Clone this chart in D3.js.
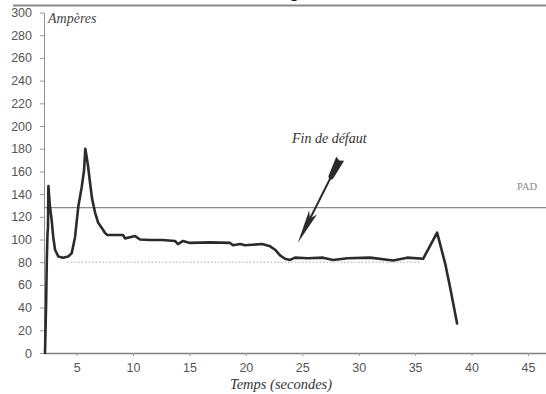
<!DOCTYPE html>
<html>
<head>
<meta charset="utf-8">
<script src="https://cdn.jsdelivr.net/npm/d3@7"></script>
<style>
  html, body { margin: 0; padding: 0; background: #fff; }
  svg { display: block; }
</style>
</head>
<body>
<svg id="chart" width="546" height="394"></svg>
<script>
// Courant mesuré (A) en fonction du temps (s)
const temps = [2.20, 2.30, 2.36, 2.42, 2.46, 2.50, 2.55, 2.64, 2.79, 2.93, 3.09, 3.38, 3.8, 4.26, 4.57,
  4.86, 5.15, 5.45, 5.66, 5.77, 5.90, 6.01, 6.19, 6.37, 6.63, 6.90, 7.25, 7.50, 7.69, 8.5,
  9.11, 9.29, 9.73, 10.18, 10.62, 11.51, 12.6, 13.72, 13.98, 14.43, 15.05, 16.8, 18.6, 18.86,
  19.49, 19.93, 21.44, 22.15, 22.59, 23.03, 23.47, 23.92, 24.36, 25.5, 26.84, 27.73, 29.0,
  31.0, 33.05, 34.3, 35.71, 36.95, 37.66, 38.1, 38.72];
const amperes = [0, 45, 82, 105, 110, 147, 140, 129, 117, 102, 91, 85, 84, 85, 88,
  102, 129, 146, 161, 180, 172, 165, 150, 136, 124, 115, 110, 106, 104, 104,
  104, 101, 102, 103, 100, 99.5, 99.5, 98.7, 96, 98.7, 97, 97.5, 97, 95,
  96, 95, 96, 94, 91, 86, 83, 82, 84, 83.5, 84, 82, 83.5,
  84, 81.5, 84, 83, 106, 79, 58, 26];

// Repères horizontaux
const seuilPAD = 128;
const niveauPointille = 80;
const pointilleDebut = 4.2;
const pointilleFin = 35.5;

// Graduations
const yTicks = d3.range(0, 301, 20);
const xTicks = [5, 10, 15, 20, 25, 30, 35, 40, 45];

// Annotation « Fin de défaut » (pointe et empennage de la flèche)
const flechePointe = [24.6, 97];
const flecheQueue = [28.2, 168];

const svg = d3.select("#chart");

const x = d3.scaleLinear().domain([2.11, 46.6]).range([44, 546]);
const y = d3.scaleLinear().domain([0, 300]).range([353, 12.5]);

// Filet supérieur et titre tronqué
svg.append("line")
  .attr("x1", 13).attr("x2", 546).attr("y1", 5.5).attr("y2", 5.5)
  .attr("stroke", "#8a8a8a").attr("stroke-width", 2);
svg.append("text")
  .attr("x", 294).attr("y", -3)
  .attr("text-anchor", "middle")
  .attr("font-family", "Liberation Sans, Arial, sans-serif")
  .attr("font-size", 20).attr("fill", "#111")
  .text("g");

// Axe vertical
const yAxis = svg.append("g")
  .attr("transform", `translate(${x.range()[0]},0)`)
  .call(d3.axisLeft(y).tickValues(yTicks).tickSize(4).tickPadding(8).tickSizeOuter(0));
yAxis.select(".domain").attr("stroke", "#8f8f8f");
yAxis.selectAll(".tick line").attr("stroke", "#9a9a9a");
yAxis.selectAll(".tick text")
  .attr("font-family", "Liberation Sans, Arial, sans-serif")
  .attr("font-size", 12.5).attr("fill", "#555");

// Axe horizontal
const xAxis = svg.append("g")
  .attr("transform", `translate(0,${y(0)})`)
  .call(d3.axisBottom(x).tickValues(xTicks).tickSize(3).tickPadding(7).tickSizeOuter(0));
xAxis.select(".domain").attr("stroke", "#7f7f7f").attr("stroke-width", 1.3);
xAxis.selectAll(".tick line").attr("stroke", "#9a9a9a");
xAxis.selectAll(".tick text")
  .attr("font-family", "Liberation Sans, Arial, sans-serif")
  .attr("font-size", 12.5).attr("fill", "#555");

// Titres d'axes
svg.append("text")
  .attr("x", 48).attr("y", 23)
  .attr("font-family", "Liberation Serif, Times New Roman, serif")
  .attr("font-style", "italic").attr("font-size", 14).attr("fill", "#444")
  .text("Ampères");
svg.append("text")
  .attr("x", 281).attr("y", 389)
  .attr("text-anchor", "middle")
  .attr("font-family", "Liberation Serif, Times New Roman, serif")
  .attr("font-style", "italic").attr("font-size", 14.5).attr("fill", "#333")
  .text("Temps (secondes)");

// Seuil PAD
svg.append("line")
  .attr("x1", x.range()[0]).attr("x2", x.range()[1])
  .attr("y1", y(seuilPAD)).attr("y2", y(seuilPAD))
  .attr("stroke", "#8c8c8c").attr("stroke-width", 1.2);
svg.append("text")
  .attr("x", 517).attr("y", y(seuilPAD) - 18)
  .attr("font-family", "Liberation Serif, Times New Roman, serif")
  .attr("font-size", 10.5).attr("fill", "#888")
  .text("PAD");

// Niveau en pointillés
svg.append("line")
  .attr("x1", x(pointilleDebut)).attr("x2", x(pointilleFin))
  .attr("y1", y(niveauPointille)).attr("y2", y(niveauPointille))
  .attr("stroke", "#a8a8a8").attr("stroke-width", 1)
  .attr("stroke-dasharray", "1.5,2");

// Courbe du courant
const points = temps.map((t, i) => [t, amperes[i]]);
svg.append("path")
  .datum(points)
  .attr("fill", "none")
  .attr("stroke", "#2b2b2b")
  .attr("stroke-width", 2.6)
  .attr("stroke-linejoin", "round")
  .attr("stroke-linecap", "round")
  .attr("d", d3.line().x(d => x(d[0])).y(d => y(d[1])));

// Flèche « Fin de défaut »
const px = x(flechePointe[0]), py = y(flechePointe[1]);
const qx = x(flecheQueue[0]), qy = y(flecheQueue[1]);
const ang = Math.atan2(py - qy, px - qx);
const ux = Math.cos(ang), uy = Math.sin(ang);
const nx = -uy, ny = ux;
const headLen = 34, headW = 4.4;
svg.append("line")
  .attr("x1", qx).attr("y1", qy).attr("x2", px - ux * headLen * 0.6).attr("y2", py - uy * headLen * 0.6)
  .attr("stroke", "#2b2b2b").attr("stroke-width", 2);
svg.append("path")
  .attr("d", `M${px},${py} L${px - ux * headLen + nx * headW},${py - uy * headLen + ny * headW} L${px - ux * headLen * 0.8},${py - uy * headLen * 0.8} L${px - ux * headLen - nx * headW},${py - uy * headLen - ny * headW} Z`)
  .attr("fill", "#2b2b2b");
// Empennage
const fl = 17, fw = 4.4;
svg.append("path")
  .attr("d", `M${qx - ux * 2},${qy - uy * 2} L${qx - ux * 4 + nx * fw},${qy - uy * 4 + ny * fw} L${qx + ux * fl + nx * fw * 0.6},${qy + uy * fl + ny * fw * 0.6} L${qx + ux * (fl + 3)},${qy + uy * (fl + 3)} L${qx + ux * fl - nx * fw * 0.6},${qy + uy * fl - ny * fw * 0.6} L${qx - ux * 4 - nx * fw},${qy - uy * 4 - ny * fw} Z`)
  .attr("fill", "#2b2b2b");
svg.append("text")
  .attr("x", 292).attr("y", 143)
  .attr("font-family", "Liberation Serif, Times New Roman, serif")
  .attr("font-style", "italic").attr("font-size", 14).attr("fill", "#333")
  .text("Fin de défaut");
</script>
</body>
</html>
